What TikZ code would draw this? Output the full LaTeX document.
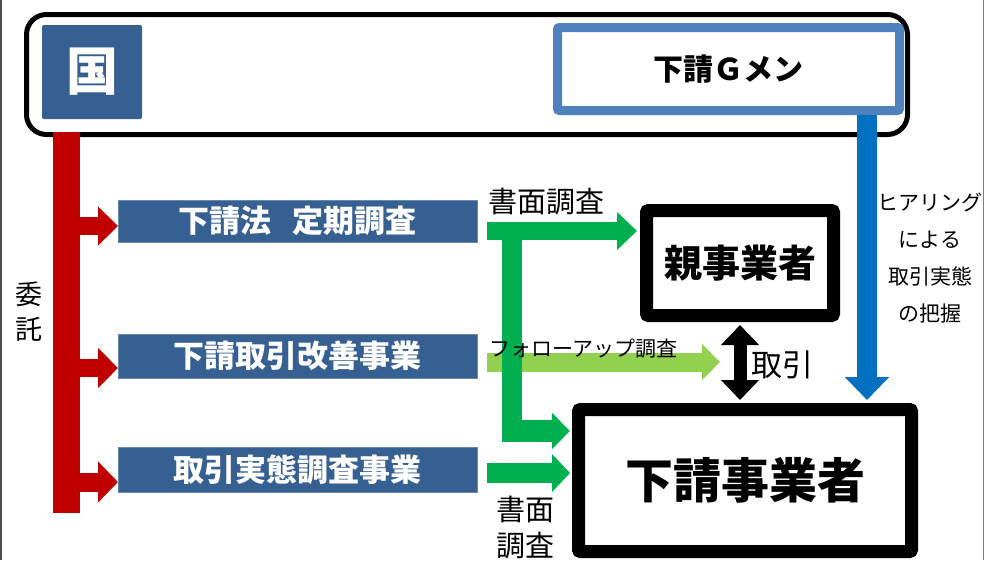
\documentclass[tikz,border=0pt]{standalone}
\usepackage{fontspec}
\newfontfamily\jp{Noto Sans CJK JP}
\usetikzlibrary{arrows.meta,calc}
\definecolor{boxblue}{RGB}{54,96,146}
\definecolor{redbar}{RGB}{192,0,0}
\definecolor{gmenblue}{RGB}{79,129,189}
\definecolor{arrowblue}{RGB}{0,112,192}
\definecolor{dgreen}{RGB}{0,176,80}
\definecolor{lgreen}{RGB}{146,208,80}
\begin{document}
\begin{tikzpicture}[x=1pt,y=-1pt,
  every node/.style={inner sep=0pt, outer sep=0pt},
  progbox/.style={fill=boxblue, draw=boxblue!75!white, line width=0.8pt, minimum width=359pt,
    text=white, font=\jp\bfseries\fontsize{31}{31}\selectfont},
  firmbox/.style={draw=black, line width=13pt, fill=white, rounded corners=2pt, outer sep=6.5pt},
  txt/.style={font=\jp\fontsize{#1}{#1}\selectfont},
  barr/.style n args={3}{line width=#1, -{Triangle[length=#3,width=#2]}}
]
\useasboundingbox (0,0) rectangle (984,560);
% image edges
\draw[line width=2pt, black!70] (1,0) -- (1,560);
\draw[line width=1pt, black!50] (983,0) -- (983,560);

% government frame
\node[draw=black, line width=5pt, rounded corners=20pt, minimum width=881pt, minimum height=120pt] (gov) at (467,74.5) {};
\node[fill=boxblue, rounded corners=2pt, minimum width=100pt, minimum height=94pt, text=white,
  font=\jp\bfseries\fontsize{52}{52}\selectfont] (koku) at (92,72) {国};
\node[draw=gmenblue, line width=9pt, fill=white, rounded corners=2pt, minimum width=342pt, minimum height=83pt,
  outer sep=4.5pt, font=\jp\bfseries\fontsize{30}{30}\selectfont] (gmen) at (728.5,69) {下請Ｇメン};

% programme boxes
\node[progbox, minimum height=42pt] (b1) at (297.5,221) {下請法\hspace{0.7em}定期調査};
\node[progbox, minimum height=44pt] (b2) at (297.5,356) {下請取引改善事業};
\node[progbox, minimum height=45pt] (b3) at (297.5,469.5) {取引実態調査事業};

% firms
\node[firmbox, minimum width=187pt, minimum height=105pt, font=\jp\bfseries\fontsize{38}{38}\selectfont] (oya) at (740,263) {親事業者};
\node[firmbox, minimum width=333pt, minimum height=142pt, font=\jp\bfseries\fontsize{48}{48}\selectfont] (shita) at (745,480.5) {下請事業者};

% red delegation bar and arrows
\coordinate (rtop) at (66.5,132);
\coordinate (rbot) at (66.5,513);
\draw[redbar, line width=27pt] (rtop) -- (rbot);
\coordinate (r1) at (79,226);
\coordinate (r2) at (79,368);
\coordinate (r3) at (79,482);
\draw[redbar, barr={18pt}{38pt}{20pt}] (r1) -- (r1 -| b1.west);
\draw[redbar, barr={18pt}{39pt}{20pt}] (r2) -- (r2 -| b2.west);
\draw[redbar, barr={19pt}{40pt}{20pt}] (r3) -- (r3 -| b3.west);
\node[align=center, font=\jp\fontsize{27}{35}\selectfont] (itaku) at (29.5,311.5) {委\\託};

% blue hearing arrow
\coordinate (bx) at (867,0);
\draw[arrowblue, barr={20pt}{43pt}{23pt}, shorten >=3pt] (gmen.south -| bx) -- (bx |- shita.north);
\node[align=center, font=\jp\fontsize{21}{37}\selectfont] (hear) at (930,258.5) {ヒアリング\\による\\取引実態\\の把握};

% green arrows
\coordinate (g1) at (487,231);
\coordinate (g3) at (487,473);
\coordinate (gl) at (487,362);
\coordinate (glend) at (720,362);
\coordinate (vtop) at (512,222);
\coordinate (vbot) at (512,442);
\coordinate (g2) at (512,431);
\draw[lgreen, barr={19pt}{35pt}{18pt}] (gl) -- (glend);
\draw[dgreen, barr={18pt}{37pt}{20pt}, shorten >=3pt] (g1) -- (g1 -| oya.west);
\draw[dgreen, line width=20pt] (vtop) -- (vbot);
\draw[dgreen, barr={22pt}{35pt}{18pt}, shorten >=2pt] (g2) -- (g2 -| shita.west);
\draw[dgreen, barr={20pt}{37pt}{18pt}, shorten >=2pt] (g3) -- (g3 -| shita.west);
\node[txt=29, anchor=west] (sho1) at (488,202) {書面調査};
\node[txt=21, anchor=west] (follow) at (489,349) {フォローアップ調査};
\node[align=center, font=\jp\fontsize{29}{36}\selectfont] (sho2) at (525,528) {書面\\調査};

% transaction
\draw[line width=13pt, {Triangle[length=20pt,width=37pt]}-{Triangle[length=20pt,width=37pt]}, shorten <=3pt, shorten >=3pt]
  (oya.south) -- (oya.south |- shita.north);
\node[txt=31, anchor=west] (torihiki) at (751,365) {取引};
\end{tikzpicture}
\end{document}
